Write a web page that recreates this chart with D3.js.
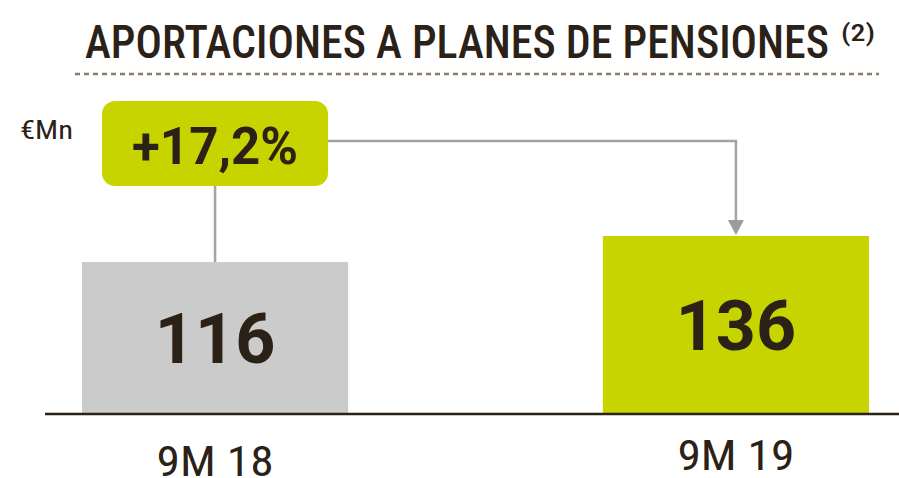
<!DOCTYPE html>
<html>
<head>
<meta charset="utf-8">
<script src="https://cdn.jsdelivr.net/npm/d3@7"></script>
<style>
  body { margin: 0; background: #fff; }
  svg { display: block; }
</style>
</head>
<body>
<script>
var categories = ['9M 18', '9M 19'];
var values = [116, 136];
var barColors = ['#cbcbcb', '#c8d400'];
var growthLabel = '+17,2%';
var unitLabel = '€Mn';
var title = 'APORTACIONES A PLANES DE PENSIONES';
var note = '(2)';

var width = 899, height = 478;
var dark = '#2b2117';
var condensed = '"Roboto Condensed", "Liberation Sans Narrow", "DejaVu Sans Condensed", Roboto, sans-serif';

var svg = d3.select('body').append('svg')
    .attr('width', width)
    .attr('height', height);

var x = d3.scaleBand()
    .domain(categories)
    .range([82, 869])
    .paddingInner(0.489)
    .paddingOuter(0);

var y = d3.scaleLinear()
    .domain([0, 136])
    .range([413, 236]);

// title
svg.append('text')
    .attr('x', 85).attr('y', 58)
    .attr('font-family', condensed)
    .attr('font-size', 47)
    .attr('font-weight', 500)
    .attr('fill', dark)
    .attr('textLength', 744)
    .attr('lengthAdjust', 'spacingAndGlyphs')
    .text(title);

svg.append('text')
    .attr('x', 841).attr('y', 41)
    .attr('font-family', condensed)
    .attr('font-size', 24)
    .attr('font-weight', 500)
    .attr('fill', dark)
    .attr('textLength', 34)
    .attr('lengthAdjust', 'spacingAndGlyphs')
    .text(note);

svg.append('line')
    .attr('x1', 75).attr('x2', 879)
    .attr('y1', 74).attr('y2', 74)
    .attr('stroke', '#8c7b68')
    .attr('stroke-width', 2.5)
    .attr('stroke-dasharray', '5,4');

// unit
svg.append('text')
    .attr('x', 20).attr('y', 139)
    .attr('font-family', condensed)
    .attr('font-size', 26)
    .attr('fill', dark)
    .attr('textLength', 53)
    .attr('lengthAdjust', 'spacingAndGlyphs')
    .text(unitLabel);

// bars
svg.selectAll('rect.bar')
    .data(values)
    .join('rect')
    .attr('class', 'bar')
    .attr('x', (d, i) => x(categories[i]))
    .attr('width', x.bandwidth())
    .attr('y', d => y(d))
    .attr('height', d => y(0) - y(d))
    .attr('fill', (d, i) => barColors[i]);

svg.selectAll('text.val')
    .data(values)
    .join('text')
    .attr('class', 'val')
    .attr('x', (d, i) => x(categories[i]) + x.bandwidth() / 2)
    .attr('y', d => (y(d) + y(0)) / 2 + 25)
    .attr('text-anchor', 'middle')
    .attr('font-family', 'Roboto, sans-serif')
    .attr('font-weight', 'bold')
    .attr('font-size', 70)
    .attr('fill', dark)
    .text(d => d);

// baseline
svg.append('line')
    .attr('x1', 45).attr('x2', width)
    .attr('y1', y(0) + 1).attr('y2', y(0) + 1)
    .attr('stroke', dark)
    .attr('stroke-width', 2.5);

// category labels
var labelY = [476, 470];
svg.selectAll('text.cat')
    .data(categories)
    .join('text')
    .attr('class', 'cat')
    .attr('x', d => x(d) + x.bandwidth() / 2)
    .attr('y', (d, i) => labelY[i])
    .attr('text-anchor', 'middle')
    .attr('font-family', condensed)
    .attr('font-size', 43)
    .attr('fill', dark)
    .attr('textLength', 117)
    .attr('lengthAdjust', 'spacingAndGlyphs')
    .text(d => d);

// connector
var cx0 = x(categories[0]) + x.bandwidth() / 2;
var cx1 = x(categories[1]) + x.bandwidth() / 2;
var badge = {x: 102, y: 101, w: 226, h: 85};
var lineY = 141;

svg.append('line')
    .attr('x1', cx0).attr('x2', cx0)
    .attr('y1', badge.y + badge.h).attr('y2', y(values[0]))
    .attr('stroke', '#a3a3a3')
    .attr('stroke-width', 2.5);

svg.append('path')
    .attr('d', 'M' + (badge.x + badge.w) + ',' + lineY + 'H' + cx1 + 'V' + (y(values[1]) - 14))
    .attr('fill', 'none')
    .attr('stroke', '#a3a3a3')
    .attr('stroke-width', 2.5);

svg.append('path')
    .attr('d', 'M' + (cx1 - 8) + ',' + (y(values[1]) - 16) + 'L' + (cx1 + 8) + ',' + (y(values[1]) - 16) + 'L' + cx1 + ',' + (y(values[1]) - 1) + 'Z')
    .attr('fill', '#9c9c9c');

// badge
svg.append('rect')
    .attr('x', badge.x).attr('y', badge.y)
    .attr('width', badge.w).attr('height', badge.h)
    .attr('rx', 13)
    .attr('fill', '#c8d400');

svg.append('text')
    .attr('x', badge.x + badge.w / 2)
    .attr('y', 164)
    .attr('text-anchor', 'middle')
    .attr('font-family', 'Roboto, sans-serif')
    .attr('font-weight', 'bold')
    .attr('font-size', 51)
    .attr('fill', dark)
    .text(growthLabel);
</script>
</body>
</html>
